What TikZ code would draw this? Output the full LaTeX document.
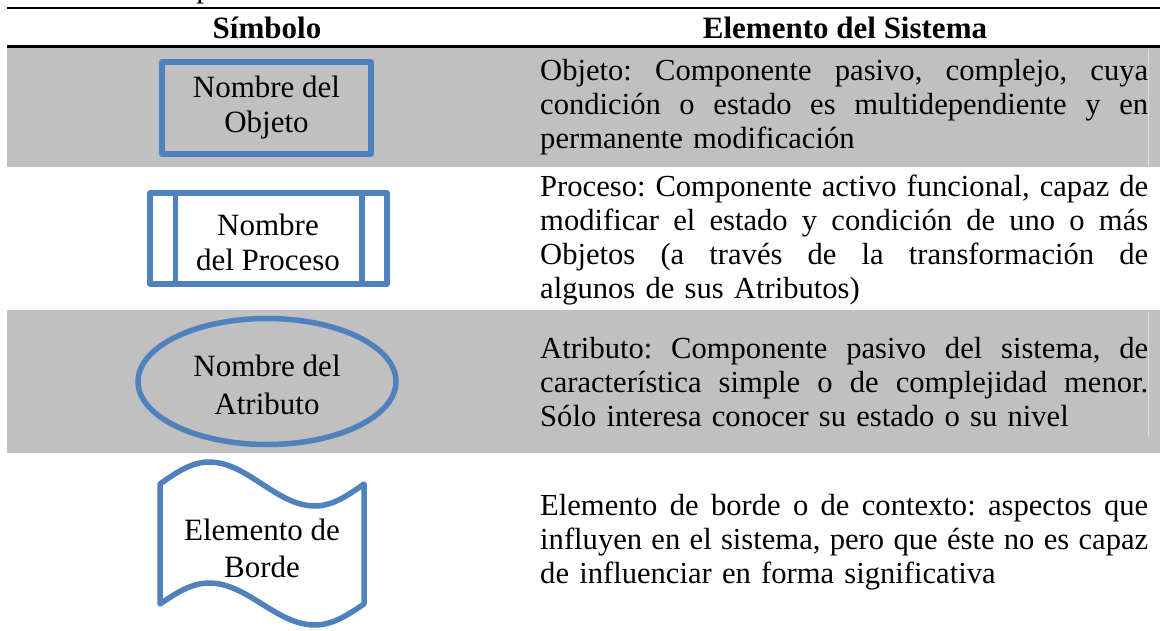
\documentclass[tikz,border=0pt]{standalone}
\usepackage{fontspec}
\setmainfont{Liberation Serif}
\usetikzlibrary{shapes.geometric}
\definecolor{sblue}{RGB}{79,129,189}
\definecolor{rowgray}{RGB}{192,192,192}
\newcommand{\jline}[1]{\leavevmode\hbox to 608pt{\spaceskip=0.25em plus 1.5em minus 0.06em\relax #1}}
\begin{document}
\begin{tikzpicture}[x=1pt,y=-1pt,
  symb/.style={draw=sblue, line width=5.5pt, line join=round},
  lbl/.style={font=\fontsize{31}{35}\selectfont, align=center, inner sep=0pt},
  desc/.style={font=\fontsize{30.6}{34.3}\selectfont\frenchspacing, text width=608pt, align=left, inner sep=0pt, anchor=west},
  hdr/.style={font=\fontsize{31}{35}\selectfont\bfseries, inner sep=0pt},
  rulebar/.style={line width=2.5pt},
  seam/.style={line width=1pt, draw=rowgray!55!white}]
\useasboundingbox (0,0) rectangle (1160,631);
\begin{scope}
\clip (0,0) rectangle (1160,631);
\node[lbl, anchor=base] (capp) at (204,-2) {p};
\end{scope}
% row backgrounds
\fill[rowgray] (7,47.5) rectangle (1160,167);
\fill[rowgray] (7,310) rectangle (1160,453);
\draw[seam] (1148,49) -- (1148,167);
\draw[seam] (1148,312) -- (1148,437);
% rules
\draw[rulebar] (7,8) -- (1160,8);
\draw[rulebar] (7,46.5) -- (1160,46.5);
% header
\node[hdr] (h1) at (267,28) {Símbolo};
\node[hdr] (h2) at (845,28) {Elemento del Sistema};
% row 1: object
\node[symb, rectangle, minimum width=209pt, minimum height=92pt, lbl] (obj) at (266.5,108) {Nombre del\\Objeto};
\node[desc] (d1) at (540,107) {\jline{Objeto: Componente pasivo, complejo, cuya}\\
\jline{condición o estado es multidependiente y en}\\
permanente modificación};
% row 2: process
\node[symb, rectangle, minimum width=237pt, minimum height=91pt] (proc) at (268.5,238.5) {};
\draw[symb] ([xshift=28pt]proc.north west) -- ([xshift=28pt]proc.south west);
\draw[symb] ([xshift=-28pt]proc.north east) -- ([xshift=-28pt]proc.south east);
\node[lbl] (proct) at (268,242) {Nombre\\del Proceso};
\node[desc] (d2) at (540,240) {\jline{Proceso: Componente activo funcional, capaz de}\\
\jline{modificar el estado y condición de uno o más}\\
\jline{Objetos (a través de la transformación de}\\
algunos de sus Atributos)};
% row 3: attribute
\node[symb, ellipse, minimum width=258pt, minimum height=126pt, inner sep=0pt] (attr) at (267,381.5) {};
\node[lbl, font=\fontsize{31}{38}\selectfont] (attrt) at (267,385) {Nombre del\\Atributo};
\node[desc] (d3) at (540,382) {\jline{Atributo: Componente pasivo del sistema, de}\\
\jline{característica simple o de complejidad menor.}\\
Sólo interesa conocer su estado o su nivel};
% row 4: border element
\draw[symb] (160,484) sin (209,462) cos (262,484) sin (315,506) cos (364,484)
  -- (364,604) sin (315,625) cos (262,604) sin (209,583) cos (160,604) -- cycle;
\node[lbl, font=\fontsize{31}{37}\selectfont] (bordt) at (262,548.5) {Elemento de\\Borde};
\node[desc] (d4) at (540,542) {\jline{Elemento de borde o de contexto: aspectos que}\\
\jline{influyen en el sistema, pero que éste no es capaz}\\
de influenciar en forma significativa};
\end{tikzpicture}
\end{document}
